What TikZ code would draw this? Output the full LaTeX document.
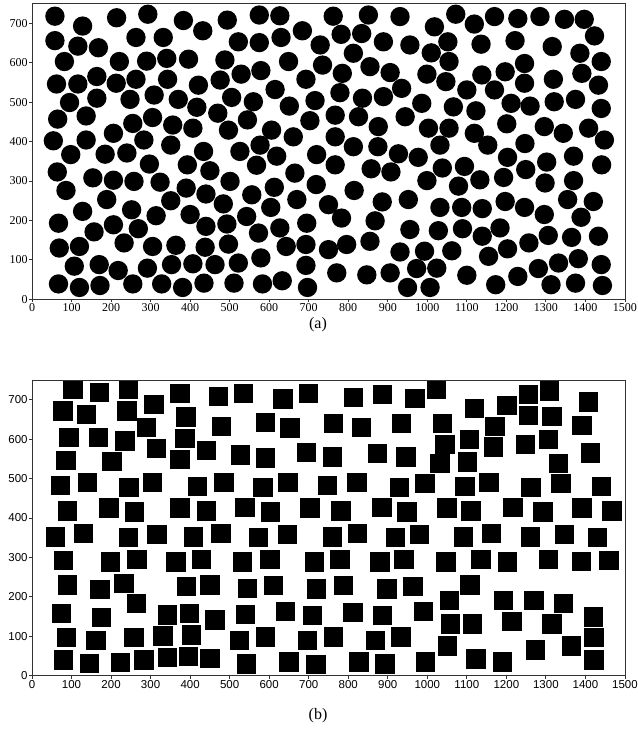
\documentclass[tikz,border=0pt]{standalone}
\usepackage{fontspec}
\setmainfont{Liberation Serif}
\setsansfont{Liberation Sans}

\begin{document}
\begin{tikzpicture}[
  every node/.style={inner sep=1pt},
  frame/.style={draw=black!80, line width=0.9pt},
  tick/.style={draw=black!80, line width=0.8pt},
  lserif/.style={font=\fontsize{12}{12}\selectfont},
  lsans/.style={font=\sffamily\fontsize{11.5}{12}\selectfont},
  caption/.style={font=\fontsize{16}{16}\selectfont},
  disc/.style={fill=black},
  block/.style={fill=black},
]
  \useasboundingbox (0,0) rectangle (637pt,-738pt);

  % (a) circles
  \begin{scope}[shift={(32pt,-299.3pt)}, x=0.3953pt, y=0.3943pt]
    \foreach \px/\py in {58/718, 128/693, 214/714, 293/723, 383/707, 432/681, 494/708, 575/721, 627/719, 684/681,
      58/656, 116/642, 168/638, 263/664, 332/664, 522/653, 575/651, 630/664, 729/645,
      82/603, 221/603, 290/604, 341/611, 396/609, 488/607, 649/603, 735/594,
      62/546, 116/546, 164/565, 213/548, 263/558, 343/558, 421/543, 476/556, 529/571, 579/580, 615/532, 693/558,
      95/499, 164/510, 248/507, 309/518, 370/507, 417/487, 505/512, 560/501, 651/490, 716/504,
      65/457, 137/465, 255/446, 305/461, 356/442, 407/434, 470/472, 497/429, 545/455, 606/429, 661/412, 703/453,
      54/402, 137/404, 206/421, 283/404, 351/391, 577/391,
      98/367, 185/368, 240/371, 434/375, 526/375, 619/363, 720/367,
      64/323, 297/343, 393/341, 450/326, 568/340, 665/320,
      86/276, 154/308, 206/302, 258/299, 324/297, 390/282, 440/267, 501/299, 556/265, 613/284, 719/291,
      189/253, 128/223, 252/227, 314/212, 351/250, 400/215, 484/242, 543/210, 604/233, 670/253,
      67/193, 157/171, 206/189, 269/179, 440/185, 493/191, 573/168, 627/181, 695/193,
      69/130, 120/134, 233/143, 305/134, 364/137, 438/132, 497/140, 643/134, 693/139,
      107/84, 170/88, 218/73, 292/79, 353/88, 407/90, 463/88, 522/92, 579/105, 693/86,
      67/39, 120/30, 172/35, 255/39, 328/39, 381/30, 435/41, 511/41, 583/39, 633/47, 697/30,
      762/718, 851/721, 931/717, 1018/691, 1072/723, 1119/698, 1170/717, 1229/712, 1285/717, 1347/710, 1397/710, 1423/668,
      782/672, 834/674, 889/653, 956/645, 1010/625, 1052/653, 1136/647, 1222/656, 1316/641, 1386/624, 1440/603,
      813/624, 785/573, 855/590, 906/575, 999/571, 1055/603, 1047/552, 1138/569, 1197/577, 1246/598, 1246/548, 1319/558, 1391/573, 1433/543,
      779/524, 836/510, 889/514, 935/535, 986/497, 1066/488, 1100/531, 1170/531, 1123/478, 1212/497, 1260/490, 1321/501, 1375/507, 1440/484,
      767/467, 826/463, 876/438, 944/463, 1003/434, 1055/434, 1119/421, 1201/445, 1296/438, 1344/421, 1408/434,
      767/412, 813/387, 875/387, 1032/391, 1153/391, 1247/395, 1448/404,
      927/369, 977/360, 1203/360, 1302/348, 1370/363,
      767/341, 858/331, 908/323, 999/301, 1038/333, 1094/337, 1133/303, 1193/309, 1249/329, 1298/295, 1370/301, 1441/341,
      815/276, 1079/287, 750/240, 783/206, 868/199, 886/247, 952/253, 1032/233, 1087/233, 1139/230, 1197/248, 1246/233, 1296/215, 1355/253, 1389/208, 1420/248,
      956/177, 1028/174, 1089/179, 1139/160, 1184/181, 1203/128, 1257/143, 1306/162, 1365/157, 1433/160,
      750/126, 796/139, 855/147, 931/120, 993/122, 1062/123, 1155/109,
      771/67, 847/62, 906/67, 973/78, 1024/79, 1100/61, 1229/58, 1281/78, 1332/92, 1382/103, 1440/88,
      950/30, 1007/30, 1173/37, 1313/37, 1375/41, 1443/35}
      \fill[disc] (\px,\py) circle[radius=24.5];
    \draw[frame] (0,0) rectangle (1500,750);
    \foreach \v in {0,100,...,1500}
      \draw[tick] (\v,0) -- ++(0,-7.5) node[lserif, below] (xa\v) {\v};
    \foreach \v in {0,100,...,700}
      \draw[tick] (0,\v) -- ++(-7.5,0) node[lserif, left] (ya\v) {\v};
  \end{scope}
  \node[caption] (capa) at (318pt,-325pt) {(a)};

  % (b) squares
  \begin{scope}[shift={(32pt,-675.7pt)}, x=0.3953pt, y=0.3943pt]
    \foreach \px/\py in {104/725, 170/719, 244/725, 309/687, 374/715, 78/671, 138/663, 240/671, 290/629, 390/656,
      94/604, 168/604, 235/595, 315/576, 387/601, 442/571, 86/546, 202/544, 374/548,
      1024/725, 1119/677, 1202/685, 1256/713, 1309/722, 1407/694, 1256/660, 1315/658, 1391/635, 1039/639,
      1171/632, 1045/587, 1106/599, 1167/580, 1249/587, 1306/599, 1413/565, 1032/538, 1101/542, 1332/538,
      90/230, 172/219, 233/234, 391/227, 450/230, 75/158, 176/148, 265/183, 343/154, 398/158, 463/141,
      88/97, 162/90, 258/97, 331/101, 404/103, 79/40, 145/31, 224/33, 283/40, 342/47, 396/48, 450/44,
      1108/230, 1056/190, 1192/190, 1270/190, 1344/183, 1059/131, 1115/131, 1214/137, 1315/131, 1420/149,
      1051/75, 1123/42, 1191/35, 1273/65, 1365/75, 1422/97, 1422/40,
      472/708, 535/716, 635/702, 700/715, 814/705, 886/714, 969/703,
      480/632, 590/642, 653/628, 763/640, 834/630, 935/640,
      527/560, 590/552, 695/566, 760/555, 874/564, 946/555,
      72/482, 140/490, 245/478, 305/490, 419/480, 486/490, 584/478, 648/490, 748/482, 822/490, 930/478,
      994/488, 1095/480, 1156/490, 1262/478, 1338/488, 1441/480,
      90/418, 195/425, 260/415, 374/425, 441/418, 539/426, 603/415, 703/425, 782/418, 885/426, 949/415,
      1050/425, 1111/418, 1217/426, 1293/415, 1391/425, 1467/418,
      60/352, 130/360, 244/350, 316/358, 409/352, 478/360, 573/350, 647/358, 760/352, 824/360, 920/350,
      981/358, 1092/352, 1163/360, 1261/352, 1347/358, 1430/350,
      80/292, 199/288, 266/295, 364/288, 428/295, 533/288, 602/295, 715/288, 779/295, 880/288, 941/295,
      1047/288, 1136/295, 1203/288, 1307/295, 1390/290, 1460/292,
      545/222, 611/228, 719/220, 788/228, 898/220, 964/226,
      540/155, 641/162, 709/152, 812/160, 887/152, 990/162,
      525/90, 590/98, 697/90, 762/98, 869/90, 933/98,
      543/30, 650/35, 718/28, 827/35, 893/30, 996/35}
      \fill[block] ({\px-24.5},{\py-24.5}) rectangle ++(49,49);
    \draw[frame] (0,0) rectangle (1500,750);
    \foreach \v in {0,100,...,1500}
      \draw[tick] (\v,0) -- ++(0,-7.5) node[lsans, below] (xb\v) {\v};
    \foreach \v in {0,100,...,700}
      \draw[tick] (0,\v) -- ++(-7.5,0) node[lsans, left] (yb\v) {\v};
  \end{scope}
  \node[caption] (capb) at (318pt,-716pt) {(b)};
\end{tikzpicture}
\end{document}
